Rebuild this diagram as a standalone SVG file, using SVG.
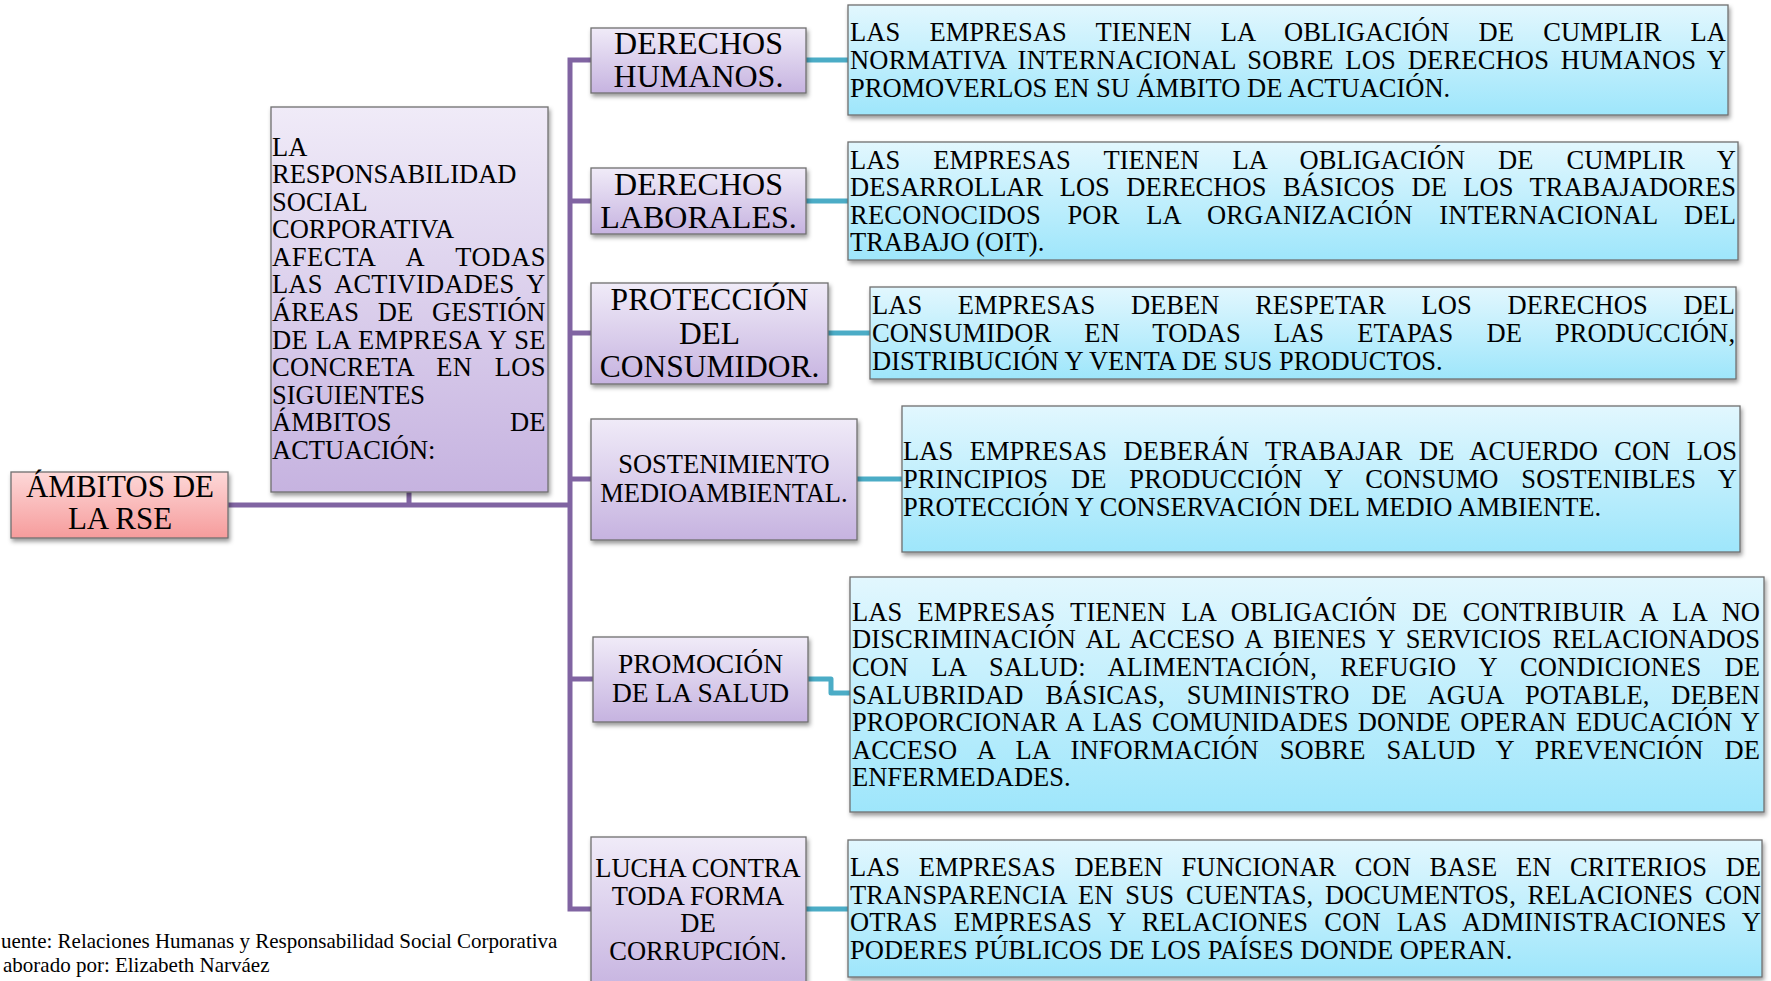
<svg xmlns="http://www.w3.org/2000/svg" width="1771" height="981" viewBox="0 0 1771 981">
<defs>
<linearGradient id="gp" x1="0" y1="0" x2="0" y2="1"><stop offset="0" stop-color="#f0ebf8"/><stop offset="1" stop-color="#c6b3e0"/></linearGradient>
<linearGradient id="gc" x1="0" y1="0" x2="0" y2="1"><stop offset="0" stop-color="#e2f7fe"/><stop offset="1" stop-color="#9ee6fb"/></linearGradient>
<linearGradient id="gr" x1="0" y1="0" x2="0" y2="1"><stop offset="0" stop-color="#fdd8d8"/><stop offset="1" stop-color="#f69c9c"/></linearGradient>
<filter id="sh" x="-10%" y="-10%" width="125%" height="130%"><feDropShadow dx="1.5" dy="3" stdDeviation="2" flood-color="#000" flood-opacity="0.4"/></filter>
</defs>
<style>
.p{fill:url(#gp);stroke:#6f6f6f;stroke-width:1.3;filter:url(#sh)}
.c{fill:url(#gc);stroke:#6f6f6f;stroke-width:1.3;filter:url(#sh)}
.r{fill:url(#gr);stroke:#6f6f6f;stroke-width:1.3;filter:url(#sh)}
text{font-family:"Liberation Serif","Times New Roman",serif;fill:#000}
.b{font-size:26.5px}
.m{text-anchor:middle}
.pc{fill:none;stroke:#8064a2;stroke-width:5}
.tc{fill:none;stroke:#4bacc6;stroke-width:5;stroke-linejoin:round}
</style>
<rect width="1771" height="981" fill="#fff"/>

<g id="connectors">
<path class="pc" d="M228,505 H570 M409,492 V505 M591,60 H570 V909 H591 M570,201 H591 M570,333 H591 M570,479 H591 M570,679 H593"/>
<path class="tc" d="M806,60 H848 M806,201 H848 M828,333 H870 M857,479 H902 M808,679 H831 V693 H850 M806,909 H848"/>
</g>

<g id="root">
<rect class="r" x="11" y="472" width="217" height="66"/>
<text class="m" x="120" y="497" font-size="31">ÁMBITOS DE</text>
<text class="m" x="120" y="529" font-size="31">LA RSE</text>
</g>

<g id="intro">
<rect class="p" x="271" y="107" width="277" height="385"/>
<text class="b" x="272" y="155.5">LA</text>
<text class="b" x="272" y="183.1">RESPONSABILIDAD</text>
<text class="b" x="272" y="210.6">SOCIAL</text>
<text class="b" x="272" y="238.2">CORPORATIVA</text>
<text class="b" x="272" y="265.8" word-spacing="24.6" textLength="273.5" lengthAdjust="spacing">AFECTA A TODAS</text>
<text class="b" x="272" y="293.4" word-spacing="6.2" textLength="273.5" lengthAdjust="spacing">LAS ACTIVIDADES Y</text>
<text class="b" x="272" y="320.9" word-spacing="12.1" textLength="273.5" lengthAdjust="spacing">ÁREAS DE GESTIÓN</text>
<text class="b" x="272" y="348.5" word-spacing="0.9" textLength="273.5" lengthAdjust="spacing">DE LA EMPRESA Y SE</text>
<text class="b" x="272" y="376.1" word-spacing="15.8" textLength="273.5" lengthAdjust="spacing">CONCRETA EN LOS</text>
<text class="b" x="272" y="403.6">SIGUIENTES</text>
<text class="b" x="272" y="431.2" word-spacing="111.8" textLength="273.5" lengthAdjust="spacing">ÁMBITOS DE</text>
<text class="b" x="272" y="458.8">ACTUACIÓN:</text>
</g>

<g id="derechos-humanos">
<rect class="p" x="591" y="28" width="215" height="65"/>
<text class="m" x="698.5" y="53.5" font-size="32">DERECHOS</text>
<text class="m" x="698.5" y="86.5" font-size="32">HUMANOS.</text>
</g>
<g id="desc-derechos-humanos">
<rect class="c" x="848" y="5" width="880" height="110"/>
<text class="b" x="850" y="41.4" word-spacing="22.5" textLength="876" lengthAdjust="spacing">LAS EMPRESAS TIENEN LA OBLIGACIÓN DE CUMPLIR LA</text>
<text class="b" x="850" y="69" word-spacing="4.8" textLength="876" lengthAdjust="spacing">NORMATIVA INTERNACIONAL SOBRE LOS DERECHOS HUMANOS Y</text>
<text class="b" x="850" y="96.6">PROMOVERLOS EN SU ÁMBITO DE ACTUACIÓN.</text>
</g>

<g id="derechos-laborales">
<rect class="p" x="591" y="168" width="215" height="66"/>
<text class="m" x="698.5" y="195" font-size="32">DERECHOS</text>
<text class="m" x="698.5" y="227.5" font-size="32">LABORALES.</text>
</g>
<g id="desc-derechos-laborales">
<rect class="c" x="848" y="142" width="890" height="118"/>
<text class="b" x="850" y="168.6" word-spacing="26.2" textLength="886" lengthAdjust="spacing">LAS EMPRESAS TIENEN LA OBLIGACIÓN DE CUMPLIR Y</text>
<text class="b" x="850" y="196.2" word-spacing="9.8" textLength="886" lengthAdjust="spacing">DESARROLLAR LOS DERECHOS BÁSICOS DE LOS TRABAJADORES</text>
<text class="b" x="850" y="223.8" word-spacing="19.7" textLength="886" lengthAdjust="spacing">RECONOCIDOS POR LA ORGANIZACIÓN INTERNACIONAL DEL</text>
<text class="b" x="850" y="251.4">TRABAJO (OIT).</text>
</g>

<g id="proteccion-consumidor">
<rect class="p" x="591" y="283" width="237" height="101"/>
<text class="m" x="709.5" y="310" font-size="31.5">PROTECCIÓN</text>
<text class="m" x="709.5" y="343.5" font-size="31.5">DEL</text>
<text class="m" x="709.5" y="377" font-size="31.5">CONSUMIDOR.</text>
</g>
<g id="desc-proteccion-consumidor">
<rect class="c" x="870" y="287" width="866" height="92"/>
<text class="b" x="872" y="314.4" word-spacing="29" textLength="863" lengthAdjust="spacing">LAS EMPRESAS DEBEN RESPETAR LOS DERECHOS DEL</text>
<text class="b" x="872" y="342" word-spacing="26.2" textLength="863" lengthAdjust="spacing">CONSUMIDOR EN TODAS LAS ETAPAS DE PRODUCCIÓN,</text>
<text class="b" x="872" y="369.6">DISTRIBUCIÓN Y VENTA DE SUS PRODUCTOS.</text>
</g>

<g id="sostenimiento">
<rect class="p" x="591" y="419" width="266" height="121"/>
<text class="m" x="724" y="472.5" font-size="26.5">SOSTENIMIENTO</text>
<text class="m" x="724" y="502" font-size="26.5">MEDIOAMBIENTAL.</text>
</g>
<g id="desc-sostenimiento">
<rect class="c" x="902" y="406" width="838" height="146"/>
<text class="b" x="903" y="460.4" word-spacing="9.7" textLength="834" lengthAdjust="spacing">LAS EMPRESAS DEBERÁN TRABAJAR DE ACUERDO CON LOS</text>
<text class="b" x="903" y="488" word-spacing="16.1" textLength="834" lengthAdjust="spacing">PRINCIPIOS DE PRODUCCIÓN Y CONSUMO SOSTENIBLES Y</text>
<text class="b" x="903" y="515.6">PROTECCIÓN Y CONSERVACIÓN DEL MEDIO AMBIENTE.</text>
</g>

<g id="promocion-salud">
<rect class="p" x="593" y="637" width="215" height="85"/>
<text class="m" x="700.5" y="672.5" font-size="27.5">PROMOCIÓN</text>
<text class="m" x="700.5" y="701.5" font-size="27.5">DE LA SALUD</text>
</g>
<g id="desc-promocion-salud">
<rect class="c" x="850" y="577" width="914" height="235"/>
<text class="b" x="852" y="620.7" word-spacing="8.5" textLength="908" lengthAdjust="spacing">LAS EMPRESAS TIENEN LA OBLIGACIÓN DE CONTRIBUIR A LA NO</text>
<text class="b" x="852" y="648.3" word-spacing="4.2" textLength="908" lengthAdjust="spacing">DISCRIMINACIÓN AL ACCESO A BIENES Y SERVICIOS RELACIONADOS</text>
<text class="b" x="852" y="675.9" word-spacing="16.4" textLength="908" lengthAdjust="spacing">CON LA SALUD: ALIMENTACIÓN, REFUGIO Y CONDICIONES DE</text>
<text class="b" x="852" y="703.5" word-spacing="15.3" textLength="908" lengthAdjust="spacing">SALUBRIDAD BÁSICAS, SUMINISTRO DE AGUA POTABLE, DEBEN</text>
<text class="b" x="852" y="731.1" word-spacing="2.7" textLength="908" lengthAdjust="spacing">PROPORCIONAR A LAS COMUNIDADES DONDE OPERAN EDUCACIÓN Y</text>
<text class="b" x="852" y="758.7" word-spacing="14.3" textLength="908" lengthAdjust="spacing">ACCESO A LA INFORMACIÓN SOBRE SALUD Y PREVENCIÓN DE</text>
<text class="b" x="852" y="786.3">ENFERMEDADES.</text>
</g>

<g id="lucha-corrupcion">
<rect class="p" x="591" y="837" width="215" height="155"/>
<text class="m" x="698" y="877" font-size="26.5">LUCHA CONTRA</text>
<text class="m" x="698" y="904.5" font-size="26.5">TODA FORMA</text>
<text class="m" x="698" y="932" font-size="26.5">DE</text>
<text class="m" x="698" y="959.5" font-size="26.5">CORRUPCIÓN.</text>
</g>
<g id="desc-lucha-corrupcion">
<rect class="c" x="848" y="840" width="914" height="137"/>
<text class="b" x="850" y="876" word-spacing="12.1" textLength="911" lengthAdjust="spacing">LAS EMPRESAS DEBEN FUNCIONAR CON BASE EN CRITERIOS DE</text>
<text class="b" x="850" y="903.6" word-spacing="5.1" textLength="911" lengthAdjust="spacing">TRANSPARENCIA EN SUS CUENTAS, DOCUMENTOS, RELACIONES CON</text>
<text class="b" x="850" y="931.2" word-spacing="9.3" textLength="911" lengthAdjust="spacing">OTRAS EMPRESAS Y RELACIONES CON LAS ADMINISTRACIONES Y</text>
<text class="b" x="850" y="958.8">PODERES PÚBLICOS DE LOS PAÍSES DONDE OPERAN.</text>
</g>

<g id="footer">
<text x="1" y="948" font-size="21">uente: Relaciones Humanas y Responsabilidad Social Corporativa</text>
<text x="3" y="972" font-size="21">aborado por: Elizabeth Narváez</text>
</g>
</svg>
